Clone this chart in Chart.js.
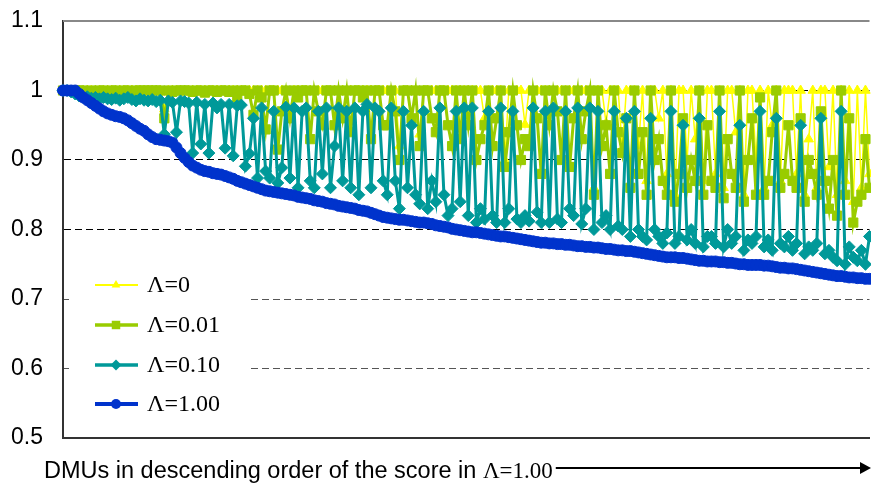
<!DOCTYPE html>
<html lang="en">
<head>
<meta charset="UTF-8">
<title>DMU scores</title>
<script src="https://cdn.jsdelivr.net/npm/chart.js"></script>
<style>
    body { margin: 0; background: #fff; overflow: hidden; }
    #box { position: relative; width: 871px; height: 484px; overflow: hidden; }
</style>
</head>
<body>
<div id="box"><canvas id="grafico" width="877" height="484"></canvas></div>

<script>
    // nomes das series (legend order)
    var nomes = ['\u039B=0', '\u039B=0.01', '\u039B=0.10', '\u039B=1.00'];
    var yTicks = ['0.5', '0.6', '0.7', '0.8', '0.9', '1', '1.1'];
    var tituloX = 'DMUs in descending order of the score in ';
    var tituloX2 = '\u039B=1.00';

    // DMU positions 1..200 (category labels only)
    var dmus = [];
    for (var i = 1; i <= 200; i++) dmus.push(i);

    // Λ=0
    var lambda0 = [
        1,1,1,1,1,1,1,1,1,1,
        1,1,1,1,1,1,1,1,1,1,
        1,1,1,1,1,0.973,1,1,1,1,
        1,1,1,1,1,1,1,1,1,1,
        1,1,1,1,1,1,1,1,1,1,
        1,1,1,1,1,1,0.97,1,1,1,
        1,1,1,1,1,1,1,1,1,1,
        1,1,1,1,1,1,1,1,1,1,
        1,1,1,0.92,1,1,1,1,0.937,1,
        1,1,1,1,1,1,1,1,1,1,
        1,1,1,1,0.96,1,1,1,1,0.9,
        1,1,1,1,0.951,1,1,1,1,1,
        1,1,1,1,1,1,1,1,1,1,
        1,0.86,1,1,0.953,1,1,1,0.916,1,
        1,1,0.92,1,0.87,1,1,0.96,1,0.88,
        1,0.85,1,1,0.9,1,0.93,1,0.87,1,
        1,0.88,1,0.86,1,1,0.94,1,0.85,1,
        1,0.9,1,0.86,1,0.95,1,0.87,1,1,
        1,0.88,1,0.85,0.93,1,0.86,1,1,0.89,
        1,0.85,1,0.87,1,0.84,1,0.86,1,0.88
    ];

    // Λ=0.01
    var lambda001 = [
        1,1,1,1,1,1,0.998,1,0.998,1,
        1,0.998,1,1,0.998,1,1,0.998,1,1,
        1,1,1,1,1,0.96,1,0.998,1,1,
        1,1,0.998,1,1,0.997,1,1,0.998,1,
        1,0.998,1,0.99,1,1,0.995,0.965,1,0.99,
        0.944,1,1,0.915,0.97,1,0.96,1,0.99,1,
        1,0.93,1,0.97,0.95,1,1,0.95,1,0.96,
        1,0.94,1,1,0.99,1,0.93,1,1,0.95,
        0.95,1,0.97,0.9,1,1,0.96,1,0.92,1,
        1,0.96,0.94,1,1,0.95,0.92,1,0.93,1,
        0.95,1,0.9,0.93,0.95,1,0.92,0.96,1,0.89,
        0.94,1,0.95,0.9,0.93,0.92,1,0.96,0.88,1,
        0.95,1,0.97,0.9,1,0.89,0.96,1,0.93,0.97,
        1,0.85,1,0.92,0.95,0.88,1,0.94,0.91,0.96,
        0.86,1,0.88,0.94,0.85,1,0.9,0.93,0.87,0.85,
        1,0.84,0.88,0.96,0.86,0.9,0.87,1,0.85,0.95,
        0.87,0.86,1,0.845,0.93,0.88,0.86,1,0.84,0.9,
        0.96,0.85,0.99,0.85,0.87,0.94,1,0.86,0.88,0.95,
        0.87,0.86,0.96,0.84,0.9,0.88,0.85,0.97,0.87,0.83,
        0.9,0.82,1,0.85,0.96,0.81,0.84,0.85,0.93,0.86
    ];

    // Λ=0.10
    var lambda010 = [
        1,1,0.998,0.995,0.992,0.99,0.991,0.989,0.99,0.988,
        0.99,0.988,0.987,0.989,0.986,0.988,0.99,0.987,0.985,0.988,
        0.986,0.985,0.987,0.984,0.986,0.937,0.985,0.983,0.94,0.985,
        0.984,0.982,0.91,0.983,0.923,0.98,0.91,0.982,0.975,0.98,
        0.917,0.98,0.906,0.978,0.979,0.891,0.909,0.96,0.874,0.975,
        0.884,0.874,0.97,0.867,0.889,0.976,0.874,0.975,0.86,0.97,
        0.975,0.87,0.86,0.97,0.88,0.975,0.86,0.92,0.975,0.87,
        0.97,0.86,0.975,0.85,0.97,0.98,0.86,0.975,0.97,0.87,
        0.85,0.975,0.87,0.83,0.97,0.86,0.95,0.85,0.837,0.97,
        0.83,0.87,0.84,0.975,0.85,0.82,0.83,0.97,0.84,0.975,
        0.82,0.975,0.81,0.83,0.815,0.97,0.82,0.81,0.975,0.81,
        0.83,0.97,0.815,0.81,0.82,0.812,0.975,0.825,0.81,0.97,
        0.81,0.975,0.815,0.81,0.97,0.83,0.82,0.975,0.808,0.83,
        0.975,0.8,0.97,0.81,0.82,0.8,0.97,0.805,0.8,0.96,
        0.79,0.97,0.8,0.79,0.785,0.96,0.8,0.79,0.78,0.795,
        0.97,0.78,0.79,0.95,0.785,0.8,0.78,0.96,0.775,0.79,
        0.79,0.78,0.97,0.775,0.8,0.78,0.79,0.95,0.77,0.785,
        0.78,0.79,0.97,0.775,0.785,0.77,0.96,0.78,0.775,0.79,
        0.77,0.78,0.95,0.765,0.775,0.77,0.78,0.96,0.765,0.77,
        0.76,0.755,0.97,0.75,0.775,0.76,0.755,0.77,0.75,0.79
    ];

    // Λ=1.00 (sorted, descending)
    var lambda100 = [
        1.000,1.000,1.000,1.000,0.995,0.990,0.986,0.982,0.978,0.974,
        0.970,0.967,0.965,0.963,0.962,0.960,0.957,0.953,0.949,0.945,
        0.942,0.937,0.933,0.930,0.929,0.928,0.927,0.925,0.918,0.910,
        0.903,0.897,0.892,0.889,0.886,0.884,0.883,0.881,0.880,0.879,
        0.877,0.875,0.873,0.870,0.868,0.866,0.864,0.862,0.860,0.858,
        0.856,0.855,0.854,0.853,0.852,0.851,0.850,0.849,0.847,0.846,
        0.845,0.844,0.842,0.841,0.840,0.838,0.837,0.836,0.834,0.833,
        0.832,0.831,0.830,0.828,0.827,0.826,0.824,0.822,0.820,0.818,
        0.817,0.816,0.815,0.814,0.814,0.813,0.812,0.811,0.810,0.810,
        0.809,0.808,0.806,0.805,0.804,0.803,0.801,0.800,0.799,0.798,
        0.797,0.796,0.796,0.795,0.794,0.793,0.792,0.791,0.790,0.790,
        0.789,0.788,0.787,0.786,0.785,0.784,0.783,0.782,0.781,0.781,
        0.780,0.780,0.779,0.779,0.778,0.778,0.777,0.776,0.776,0.775,
        0.775,0.774,0.774,0.773,0.772,0.772,0.771,0.770,0.770,0.769,
        0.769,0.768,0.767,0.766,0.765,0.764,0.763,0.762,0.761,0.760,
        0.760,0.760,0.759,0.759,0.758,0.757,0.756,0.755,0.755,0.754,
        0.754,0.754,0.753,0.753,0.752,0.752,0.751,0.750,0.750,0.749,
        0.749,0.749,0.749,0.748,0.748,0.747,0.746,0.745,0.745,0.744,
        0.744,0.743,0.742,0.741,0.740,0.739,0.738,0.737,0.736,0.735,
        0.734,0.733,0.733,0.732,0.731,0.731,0.730,0.730,0.729,0.729
    ];

    var cores = ['#FFFF00', '#99CC00', '#009999', '#0033CC'];
    var estilos = ['triangle', 'rect', 'rectRot', 'circle'];
    var raios = [5.5, 6.5, 6, 5.5];
    var larguras = [1.5, 3, 3, 5];

    function marcador(c, estilo, x, y, r) {
        c.beginPath();
        if (estilo == 'triangle') {
            c.moveTo(x, y - r);
            c.lineTo(x + r * 0.866, y + r * 0.5);
            c.lineTo(x - r * 0.866, y + r * 0.5);
            c.closePath();
        } else if (estilo == 'rect') {
            var s = r * 0.7071;
            c.rect(x - s, y - s, 2 * s, 2 * s);
        } else if (estilo == 'rectRot') {
            c.moveTo(x, y - r); c.lineTo(x + r, y); c.lineTo(x, y + r); c.lineTo(x - r, y);
            c.closePath();
        } else {
            c.arc(x, y, r, 0, Math.PI * 2);
        }
        c.fill();
    }

    // borda de cima, legenda e titulo do eixo x
    var moldura = {
        id: 'moldura',
        afterDatasetsDraw: function(chart) {
            var c = chart.ctx, a = chart.chartArea;
            c.save();
            c.strokeStyle = '#888';
            c.lineWidth = 2;
            c.beginPath(); c.moveTo(a.left, a.top); c.lineTo(a.right, a.top); c.stroke();

            c.fillStyle = '#fff';
            c.fillRect(a.left + 6, 258, 179, 166);

            var linhas = [285, 325, 365, 404];
            for (var k = 0; k < 4; k++) {
                var yy = linhas[k];
                c.strokeStyle = cores[k];
                c.lineWidth = larguras[k] > 3 ? 4 : larguras[k] + 0.5;
                c.beginPath(); c.moveTo(95, yy); c.lineTo(138, yy); c.stroke();
                c.fillStyle = cores[k];
                marcador(c, estilos[k], 116, yy, raios[k] - 0.5);
                c.fillStyle = '#000';
                c.font = '24px "Liberation Serif", "Times New Roman", serif';
                c.textBaseline = 'middle';
                c.fillText(nomes[k], 147, yy + 1);
            }
            c.restore();
        },
        afterDraw: function(chart) {
            var c = chart.ctx;
            c.save();
            c.fillStyle = '#000';
            c.textBaseline = 'alphabetic';
            c.font = '23.5px "Liberation Sans", Arial, sans-serif';
            c.fillText(tituloX, 44, 478);
            var w1 = c.measureText(tituloX).width;
            c.font = '23px "Liberation Serif", "Times New Roman", serif';
            c.fillText(tituloX2, 44 + w1, 478);
            var fim = 44 + w1 + c.measureText(tituloX2).width + 3;
            c.strokeStyle = '#000';
            c.lineWidth = 2;
            c.beginPath(); c.moveTo(fim, 468); c.lineTo(862, 468); c.stroke();
            c.beginPath(); c.moveTo(871, 468); c.lineTo(860, 462); c.lineTo(860, 474); c.closePath(); c.fill();
            c.restore();
        }
    };

    var series = [lambda0, lambda001, lambda010, lambda100];
    var conjuntos = [];
    for (var k = 0; k < 4; k++) {
        conjuntos.push({
            label: nomes[k],
            data: series[k],
            borderColor: cores[k],
            backgroundColor: cores[k],
            borderWidth: larguras[k],
            pointStyle: estilos[k],
            pointRadius: raios[k],
            pointBorderWidth: 1,
            pointBackgroundColor: cores[k],
            pointBorderColor: cores[k],
            tension: 0,
            order: 3 - k
        });
    }

    var ctx = document.getElementById('grafico').getContext('2d');
    new Chart(ctx, {
        type: 'line',
        data: { labels: dmus, datasets: conjuntos },
        options: {
            responsive: false,
            animation: false,
            layout: { padding: { top: 21, right: 0, left: 0, bottom: 0 } },
            plugins: { legend: { display: false }, tooltip: { enabled: false } },
            scales: {
                x: {
                    type: 'category',
                    offset: false,
                    ticks: { display: false },
                    grid: { display: false },
                    border: { color: '#333', width: 2 },
                    afterFit: function(s) { s.height = 46; s.paddingLeft = 0; s.paddingRight = 0; }
                },
                y: {
                    min: 0.5,
                    max: 1.1,
                    ticks: {
                        stepSize: 0.1,
                        padding: 20,
                        color: '#000',
                        font: { family: '"Liberation Sans", Arial, sans-serif', size: 23 },
                        callback: function(v) { return yTicks[Math.round((v - 0.5) * 10)]; }
                    },
                    grid: {
                        drawTicks: false,
                        lineWidth: 1,
                        color: function(c) {
                            var n = Math.round(c.tick.value * 10);
                            if (n == 5 || n == 11) return 'rgba(0,0,0,0)';
                            if (n == 6 || n == 7) return '#555';
                            return '#000';
                        }
                    },
                    border: { color: '#333', width: 2, dash: [7, 4] },
                    afterFit: function(s) { s.width = 63; s.paddingTop = 0; s.paddingBottom = 0; }
                }
            }
        },
        plugins: [moldura]
    });
</script>
</body>
</html>
